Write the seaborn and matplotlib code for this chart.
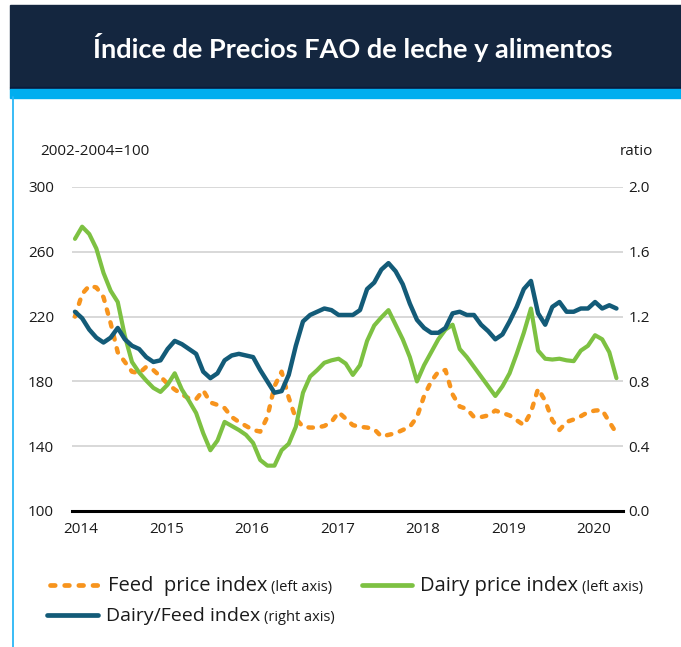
import numpy as np
import pandas as pd
import matplotlib
matplotlib.use('Agg')
import matplotlib.pyplot as plt
from matplotlib.patches import Rectangle
from matplotlib.lines import Line2D
import seaborn as sns

# monthly values, Jan 2014 - May 2020
feed = [220, 234, 239, 238, 232, 216, 198, 192, 186, 185, 189, 187,
        183, 178.5, 175, 172, 169.5, 169, 174.5, 167, 165.5, 163.5, 158, 155,
        152.5, 150, 149, 158, 177, 186, 170, 157, 152, 151.5, 151.5, 152.5,
        155, 161, 157, 153, 152, 151.5, 150.5, 146, 147, 148, 150, 152,
        158, 171, 180, 186, 187, 172, 164.5, 163, 158, 158, 159, 162,
        160.5, 159, 156, 153, 161, 175.5, 168, 156, 150, 155, 156.5, 158.5,
        161, 162, 162.3, 155, 148]
dairy = [268, 275.5, 271, 262, 247, 236, 229, 208, 192, 185.5, 180.5, 176,
         173.5, 178, 185, 175, 168, 160.5, 148, 137.5, 143.5, 155, 152.5, 150,
         147, 142, 131.5, 128, 128, 137.5, 141.5, 152, 173, 183, 187, 191.5,
         193, 194, 191, 184, 190, 205, 214.5, 219.5, 224, 215, 206, 195,
         180, 190, 198, 206, 212, 215, 200, 195, 189, 183, 177, 171,
         177, 185, 197, 210, 225, 199, 194, 193.5, 194, 193, 192.5, 199,
         202, 208.5, 206, 198, 182]
ratio = [1.23, 1.19, 1.12, 1.07, 1.04, 1.07, 1.13, 1.06, 1.02, 1.00, 0.95, 0.92,
         0.93, 1.00, 1.05, 1.03, 1.00, 0.97, 0.86, 0.82, 0.85, 0.93, 0.96, 0.97,
         0.96, 0.95, 0.87, 0.80, 0.73, 0.74, 0.84, 1.02, 1.17, 1.21, 1.23, 1.25,
         1.24, 1.21, 1.21, 1.21, 1.24, 1.37, 1.41, 1.49, 1.53, 1.48, 1.40, 1.28,
         1.18, 1.13, 1.10, 1.10, 1.13, 1.22, 1.23, 1.21, 1.21, 1.15, 1.11, 1.06,
         1.09, 1.17, 1.26, 1.37, 1.42, 1.22, 1.15, 1.26, 1.29, 1.23, 1.23, 1.25,
         1.25, 1.29, 1.25, 1.27, 1.25]
years = [2014, 2015, 2016, 2017, 2018, 2019, 2020]
left_ticks = [100, 140, 180, 220, 260, 300]
right_ticks = [0.0, 0.4, 0.8, 1.2, 1.6, 2.0]

ORANGE = '#F7941D'
GREEN = '#7DC142'
BLUE = '#135B78'
TXT = '#1a1a1a'

df = pd.DataFrame({'t': 2014 + np.arange(len(feed)) / 12,
                   'feed': feed, 'dairy': dairy, 'ratio': ratio})

sns.set_theme(style='white')
plt.rcParams['font.family'] = ['Open Sans', 'DejaVu Sans']

W, H = 681, 647
fig = plt.figure(figsize=(W / 100, H / 100), dpi=100)
ax = fig.add_axes([72 / W, 1 - 511 / H, 551 / W, 324 / H])
ax2 = ax.twinx()

# banner
fig.patches.append(Rectangle((10 / W, 1 - 87 / H), 1, 82 / H,
                             transform=fig.transFigure, color='#14263F', zorder=0))
fig.patches.append(Rectangle((10 / W, 1 - 89 / H), 1, 2 / H,
                             transform=fig.transFigure, color='#0A1B3D', zorder=0))
fig.patches.append(Rectangle((10 / W, 1 - 98 / H), 1, 9 / H,
                             transform=fig.transFigure, color='#00AEEF', zorder=0))
fig.lines.append(Line2D([12.5 / W, 12.5 / W], [0, 1 - 97 / H],
                        transform=fig.transFigure, color='#29B6F6', lw=1.3))
fig.text(353 / W, 1 - 47 / H, 'Índice de Precios FAO de leche y alimentos',
         color='white', fontsize=19.5, fontweight='bold', ha='center', va='center',
         family=['Lato', 'DejaVu Sans'])

DASH = [1.0, 2.0]
sns.lineplot(data=df, x='t', y='feed', ax=ax, color=ORANGE, lw=3.2, legend=False)
ax.lines[-1].set_dashes(DASH)
ax.lines[-1].set_dash_capstyle('round')
sns.lineplot(data=df, x='t', y='dairy', ax=ax, color=GREEN, lw=3.0, legend=False)
sns.lineplot(data=df, x='t', y='ratio', ax=ax2, color=BLUE, lw=3.2, legend=False)

for a in (ax, ax2):
    a.set_xlim(2013.965, 2020.41)
    a.set_xlabel('')
    a.set_ylabel('')
    for s in a.spines.values():
        s.set_visible(False)
    a.tick_params(length=0, labelsize=11, colors=TXT)

ax.set_ylim(100, 300)
ax2.set_ylim(0, 2.0)
ax.set_yticks(left_ticks)
ax.set_yticklabels([str(v) for v in left_ticks])
ax2.set_yticks(right_ticks)
ax2.set_yticklabels([f'{v:.1f}' for v in right_ticks])
ax.tick_params(axis='y', pad=13)
ax2.tick_params(axis='y', pad=4)
ax.set_xticks([y + 0.07 for y in years])
ax.set_xticklabels([str(y) for y in years])
ax.tick_params(axis='x', pad=8)

for v in left_ticks[1:]:
    ax.axhline(v, color='#D6D6D6', lw=1.3, zorder=0)
ax.spines['bottom'].set_visible(True)
ax.spines['bottom'].set_color('black')
ax.spines['bottom'].set_linewidth(2.2)

fig.text(40 / W, 1 - 151 / H, '2002-2004=100', fontsize=11, va='center', color=TXT)
fig.text(620 / W, 1 - 151 / H, 'ratio', fontsize=11, va='center', color=TXT)

# legend built by hand: big label + small "(... axis)" part
renderer = fig.canvas.get_renderer()


def legend_entry(x0, x1, y, color, main, small, size, dashed=False):
    ln = Line2D([x0 / W, x1 / W], [1 - y / H] * 2, transform=fig.transFigure,
                color=color, lw=3.4, solid_capstyle='round', dash_capstyle='round')
    if dashed:
        ln.set_dashes(DASH)
    fig.lines.append(ln)
    t = fig.text((x1 + 8) / W, 1 - (y + 6) / H, main, fontsize=size,
                 va='baseline', color=TXT)
    bb = t.get_window_extent(renderer)
    fig.text((bb.x1 + 4) / W, 1 - (y + 6) / H, small, fontsize=10.5,
             va='baseline', color=TXT)


legend_entry(50, 100, 585, ORANGE, 'Feed  price index', '(left axis)', 14.5, dashed=True)
legend_entry(362, 412, 585, GREEN, 'Dairy price index', '(left axis)', 14.5)
legend_entry(47, 98, 615, BLUE, 'Dairy/Feed index', '(right axis)', 14)

fig.savefig('out.png', dpi=100)
